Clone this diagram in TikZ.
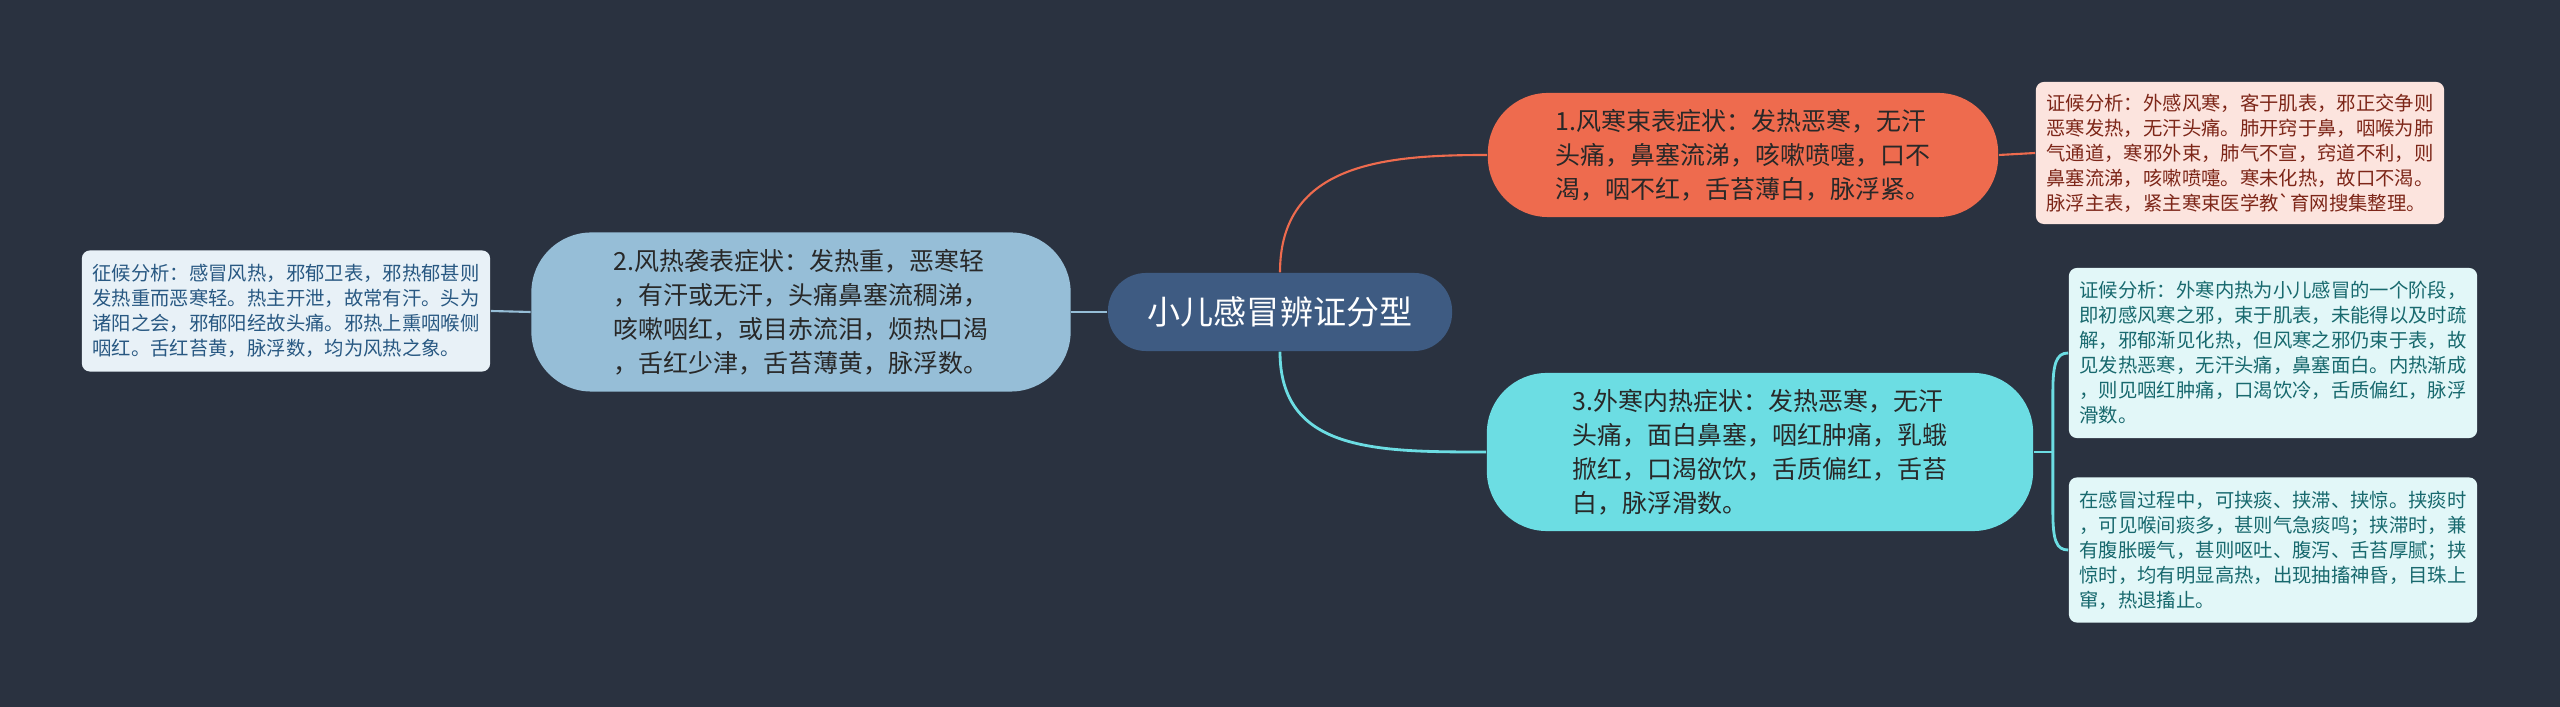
\documentclass[tikz,border=0pt]{standalone}
\usepackage{fontspec}
\usepackage{xcolor}
\usepackage{tikz}
\usetikzlibrary{backgrounds}
\usetikzlibrary{calc}
\newfontfamily\cjk{Noto Sans CJK SC}
\pgfdeclarelayer{edgelayer}
\pgfdeclarelayer{nodelayer}
\pgfsetlayers{background,edgelayer,nodelayer,main}
\definecolor{bgc}{RGB}{42,50,64}
\definecolor{rootc}{RGB}{62,91,130}
\definecolor{orc}{RGB}{238,107,78}
\definecolor{blc}{RGB}{150,190,215}
\definecolor{cyc}{RGB}{108,221,227}
\definecolor{pinkc}{RGB}{252,228,222}
\definecolor{aquac}{RGB}{226,247,248}
\definecolor{icec}{RGB}{232,241,247}
\tikzstyle{root}=[fill=rootc,text=white,inner sep=0mm,rounded corners=0.38cm,minimum width=3.44cm,minimum height=0.78cm,font=\cjk\fontsize{9.4}{11}\selectfont]
\tikzstyle{br}=[inner sep=0mm,align=left,text={rgb,255:red,40;green,40;blue,40},rounded corners=0.6cm,font=\cjk\fontsize{7.1}{9.7}\selectfont]
\tikzstyle{rn}=[br,fill=orc,minimum width=5.1cm,minimum height=1.24cm]
\tikzstyle{bn}=[br,fill=blc,minimum width=5.39cm,minimum height=1.59cm]
\tikzstyle{cn}=[br,fill=cyc,minimum width=5.46cm,minimum height=1.58cm]
\tikzstyle{leaf}=[inner sep=0mm,align=left,rounded corners=0.08cm,minimum width=4.08cm,font=\cjk\fontsize{5.5}{7.1}\selectfont]
\tikzstyle{rl}=[leaf,fill=pinkc,text={rgb,255:red,125;green,38;blue,24},minimum height=1.42cm]
\tikzstyle{cl}=[leaf,fill=aquac,text={rgb,255:red,24;green,105;blue,110}]
\tikzstyle{bl}=[leaf,fill=icec,text={rgb,255:red,40;green,88;blue,130},minimum height=1.21cm]
\tikzstyle{oline}=[draw=orc,line width=0.6pt]
\tikzstyle{cline}=[draw=cyc,line width=0.8pt]
\tikzstyle{bline}=[draw=blc,line width=0.6pt]

\begin{document}
\begin{tikzpicture}[x=0.01cm,y=-0.01cm]
	\begin{pgfonlayer}{background}
		\fill[bgc] (0,0) rectangle (2560,707);
	\end{pgfonlayer}
	\begin{pgfonlayer}{nodelayer}
		\node [style=root] (0) at (1280, 312) {小儿感冒辨证分型};
		\node [style=rn] (1) at (1743, 155) {1.风寒束表症状：发热恶寒，无汗\\头痛，鼻塞流涕，咳嗽喷嚏，口不\\渴，咽不红，舌苔薄白，脉浮紧。};
		\node [style=bn] (2) at (801, 312) {2.风热袭表症状：发热重，恶寒轻\\，有汗或无汗，头痛鼻塞流稠涕，\\咳嗽咽红，或目赤流泪，烦热口渴\\，舌红少津，舌苔薄黄，脉浮数。};
		\node [style=cn] (3) at (1760, 452) {3.外寒内热症状：发热恶寒，无汗\\头痛，面白鼻塞，咽红肿痛，乳蛾\\掀红，口渴欲饮，舌质偏红，舌苔\\白，脉浮滑数。};
		\node [style=rl] (4) at (2240, 153) {证候分析：外感风寒，客于肌表，邪正交争则\\恶寒发热，无汗头痛。肺开窍于鼻，咽喉为肺\\气通道，寒邪外束，肺气不宣，窍道不利，则\\鼻塞流涕，咳嗽喷嚏。寒未化热，故口不渴。\\脉浮主表，紧主寒束医学教`育网搜集整理。};
		\node [style=cl,minimum height=1.7cm] (5) at (2273, 353) {证候分析：外寒内热为小儿感冒的一个阶段，\\即初感风寒之邪，束于肌表，未能得以及时疏\\解，邪郁渐见化热，但风寒之邪仍束于表，故\\见发热恶寒，无汗头痛，鼻塞面白。内热渐成\\，则见咽红肿痛，口渴饮冷，舌质偏红，脉浮\\滑数。};
		\node [style=cl,minimum height=1.45cm] (6) at (2273, 550) {在感冒过程中，可挟痰、挟滞、挟惊。挟痰时\\，可见喉间痰多，甚则气急痰鸣；挟滞时，兼\\有腹胀暖气，甚则呕吐、腹泻、舌苔厚腻；挟\\惊时，均有明显高热，出现抽搐神昏，目珠上\\窜，热退搐止。};
		\node [style=bl] (7) at (286, 311) {征候分析：感冒风热，邪郁卫表，邪热郁甚则\\发热重而恶寒轻。热主开泄，故常有汗。头为\\诸阳之会，邪郁阳经故头痛。邪热上熏咽喉侧\\咽红。舌红苔黄，脉浮数，均为风热之象。};
		\coordinate (8) at ($(3.east)+(19,0)$);
	\end{pgfonlayer}
	\begin{pgfonlayer}{edgelayer}
		\draw[style=oline] (0.north) .. controls +(0,-110) and +(-100,0) .. (1.west);
		\draw[style=cline] (0.south) .. controls +(0,100) and +(-110,0) .. (3.west);
		\draw[style=bline] (0.west) -- (2.east);
		\draw[style=bline] (2.west) -- (7.east);
		\draw[style=oline] (1.east) -- (4.west);
		\draw[style=cline] (3.east) -- (8);
		\draw[style=cline] (8) -- ++(0,-60) .. controls +(0,-28) and +(-12,0) .. (5.west);
		\draw[style=cline] (8) -- ++(0,60) .. controls +(0,28) and +(-12,0) .. (6.west);
	\end{pgfonlayer}
\end{tikzpicture}
\end{document}
